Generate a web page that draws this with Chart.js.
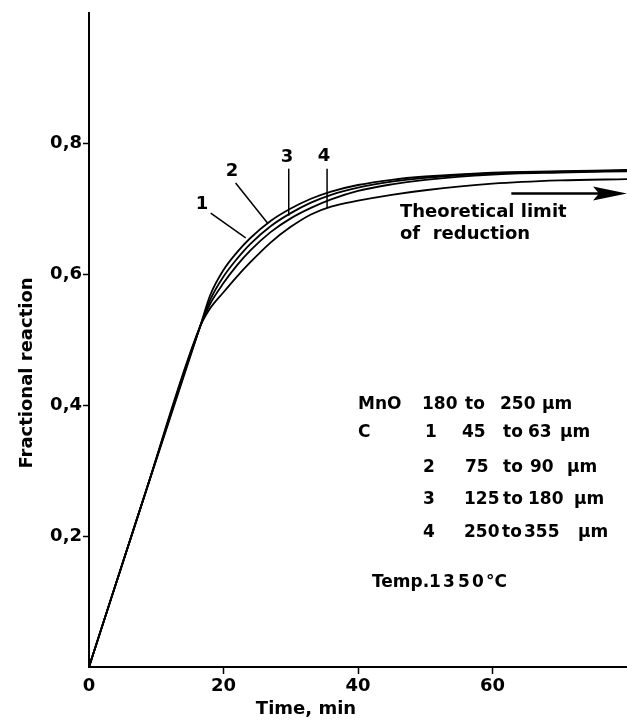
<!DOCTYPE html>
<html>
<head>
<meta charset="utf-8">
<script src="https://cdn.jsdelivr.net/npm/chart.js@4.4.1/dist/chart.umd.min.js"></script>
<style>
  html, body { margin: 0; padding: 0; background: #fff; }
  #wrap { width: 627px; height: 721px; position: relative; }
</style>
</head>
<body>
<div id="wrap"><canvas id="reductionChart"></canvas></div>
<script>
// Values (time in min, fractional reaction)
const times  = [0, 8, 16.5, 18, 20, 22, 24, 27, 30, 33, 36, 40, 45, 50, 60, 70, 80];
const curve1 = [0, 0.254, 0.52, 0.568, 0.607, 0.634, 0.656, 0.682, 0.701, 0.716, 0.727, 0.737, 0.745, 0.750, 0.756, 0.758, 0.760];
const curve2 = [0, 0.254, 0.52, 0.561, 0.597, 0.624, 0.647, 0.674, 0.694, 0.710, 0.722, 0.733, 0.742, 0.748, 0.755, 0.757, 0.759];
const curve3 = [0, 0.254, 0.52, 0.555, 0.587, 0.614, 0.637, 0.665, 0.686, 0.702, 0.715, 0.728, 0.738, 0.745, 0.753, 0.756, 0.758];
const curve4 = [0, 0.254, 0.52, 0.548, 0.573, 0.597, 0.619, 0.649, 0.673, 0.692, 0.704, 0.713, 0.722, 0.729, 0.739, 0.744, 0.746];
const seriesNames = ['1', '2', '3', '4'];

const xTicks = [0, 20, 40, 60];
const yTicks = [0.2, 0.4, 0.6, 0.8];
const theoreticalLimit = 0.724;

// curve label leaders, in data units [x1, y1, x2, y2]
const leaders = [
    [18.1, 0.694, 23.3, 0.656],
    [21.8, 0.740, 26.6, 0.678],
    [29.7, 0.762, 29.7, 0.690],
    [35.4, 0.762, 35.4, 0.702]
];

const FONT = '"DejaVu Sans", "Liberation Sans", sans-serif';

function toPoints(vals) {
    return times.map((t, i) => ({ x: t, y: vals[i] }));
}

const overlay = {
    id: 'overlay',
    afterDraw(chart) {
        const { ctx, scales: { x, y } } = chart;
        ctx.save();
        ctx.fillStyle = '#000';
        ctx.strokeStyle = '#000';

        // leaders to the curves
        ctx.lineWidth = 1.5;
        leaders.forEach(l => {
            ctx.beginPath();
            ctx.moveTo(x.getPixelForValue(l[0]), y.getPixelForValue(l[1]));
            ctx.lineTo(x.getPixelForValue(l[2]), y.getPixelForValue(l[3]));
            ctx.stroke();
        });

        ctx.font = 'bold 18px ' + FONT;
        ctx.textAlign = 'center';
        ctx.textBaseline = 'middle';
        const labelPos = [[202, 204], [232, 171], [287, 157], [324, 156]];
        seriesNames.forEach((n, i) => ctx.fillText(n, labelPos[i][0], labelPos[i][1]));

        // theoretical limit arrow
        const ay = y.getPixelForValue(theoreticalLimit);
        const ax1 = x.getPixelForValue(62.8);
        const ax2 = x.getPixelForValue(80);
        ctx.lineWidth = 2.5;
        ctx.beginPath();
        ctx.moveTo(ax1, ay);
        ctx.lineTo(ax2 - 20, ay);
        ctx.stroke();
        ctx.beginPath();
        ctx.moveTo(ax2, ay);
        ctx.lineTo(ax2 - 34, ay - 7);
        ctx.lineTo(ax2 - 28, ay);
        ctx.lineTo(ax2 - 34, ay + 7);
        ctx.closePath();
        ctx.fill();

        ctx.textAlign = 'left';
        ctx.fillText('Theoretical limit', 400, 212);
        ctx.fillText('of  reduction', 400, 234);

        // size table
        ctx.font = 'bold 17px ' + FONT;
        const rows = [
            [405, [['MnO', 358], ['180', 422], ['to', 465], ['250', 500], ['µm', 542]]],
            [433, [['C', 358], ['1', 425], ['45', 462], ['to', 503], ['63', 528], ['µm', 560]]],
            [468, [['2', 423], ['75', 465], ['to', 503], ['90', 530], ['µm', 567]]],
            [500, [['3', 423], ['125', 464], ['to', 503], ['180', 528], ['µm', 574]]],
            [533, [['4', 423], ['250', 464], ['to', 502], ['355', 524], ['µm', 578]]],
            [583, [['Temp.', 372], ['1', 429], ['3', 443], ['5', 458], ['0', 472], ['°C', 486]]]
        ];
        rows.forEach(r => r[1].forEach(p => ctx.fillText(p[0], p[1], r[0])));

        // axis titles
        ctx.font = 'bold 18px ' + FONT;
        ctx.textAlign = 'center';
        ctx.fillText('Time, min', 306, 709);
        ctx.translate(27, 373);
        ctx.rotate(-Math.PI / 2);
        ctx.fillText('Fractional reaction', 0, 0);
        ctx.restore();
    }
};

const lineStyle = {
    borderColor: '#000',
    borderWidth: 1.8,
    pointRadius: 0,
    fill: false,
    cubicInterpolationMode: 'monotone'
};

new Chart(document.getElementById('reductionChart'), {
    type: 'line',
    data: {
        datasets: [curve1, curve2, curve3, curve4].map((c, i) => ({
            label: seriesNames[i],
            data: toPoints(c),
            ...lineStyle
        }))
    },
    options: {
        responsive: true,
        maintainAspectRatio: false,
        animation: false,
        layout: { padding: { top: 13, right: 0, left: 0, bottom: 0 } },
        plugins: { legend: { display: false }, tooltip: { enabled: false } },
        scales: {
            x: {
                type: 'linear',
                min: 0,
                max: 80,
                afterFit: s => { s.height = 54; },
                afterBuildTicks: s => { s.ticks = xTicks.map(v => ({ value: v })); },
                border: { color: '#000', width: 2 },
                grid: {
                    drawOnChartArea: false,
                    tickLength: 7,
                    tickWidth: 1.5,
                    color: c => (c.tick && c.tick.value === 0) ? 'rgba(0,0,0,0)' : '#000'
                },
                ticks: {
                    color: '#000',
                    padding: 2,
                    maxRotation: 0,
                    font: { family: FONT, size: 18, weight: 'bold' },
                    callback: v => String(v)
                }
            },
            y: {
                min: 0,
                max: 1.0,
                afterFit: s => { s.width = 89; },
                afterBuildTicks: s => { s.ticks = yTicks.map(v => ({ value: v })); },
                border: { color: '#000', width: 2 },
                grid: {
                    drawOnChartArea: false,
                    tickLength: 6,
                    tickWidth: 1.5,
                    color: '#000'
                },
                ticks: {
                    color: '#000',
                    padding: 1,
                    font: { family: FONT, size: 18, weight: 'bold' },
                    callback: v => v.toFixed(1).replace('.', ',')
                }
            }
        }
    },
    plugins: [overlay]
});
</script>
</body>
</html>
